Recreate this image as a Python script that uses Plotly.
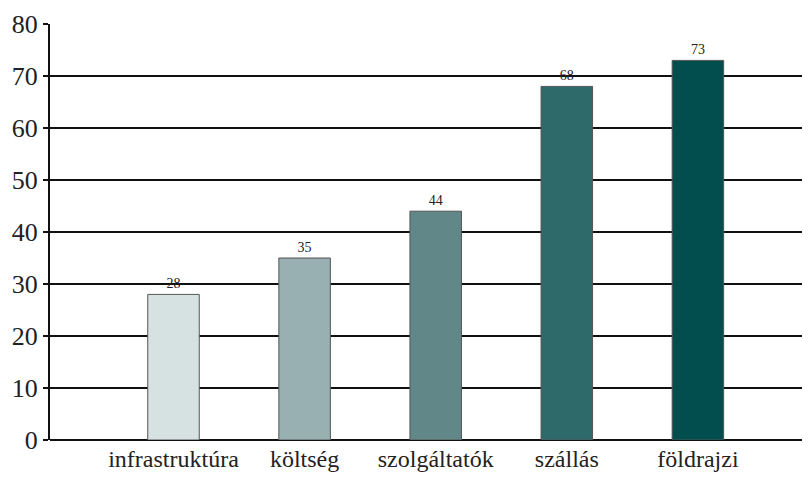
import plotly.graph_objects as go

categories = ['infrastruktúra', 'költség', 'szolgáltatók', 'szállás', 'földrajzi']
values = [28, 35, 44, 68, 73]
colors = ['#d6e1e1', '#98b0b1', '#628788', '#2e6a69', '#024d4d']
y_ticks = [0, 10, 20, 30, 40, 50, 60, 70, 80]

font_family = 'Liberation Serif'

fig = go.Figure()

fig.add_trace(go.Bar(x=categories,
                     y=values,
                     width=0.393,
                     marker=dict(color=colors, line=dict(color='#555555', width=1)),
                     text=values,
                     textposition='outside',
                     textfont=dict(family=font_family, size=14, color='#222222'),
                     cliponaxis=False))

# the page body has an 8px margin, so the figure is sized to the visible area
fig.update_layout(
    width=802,
    height=473,
    margin=dict(l=42, r=0, t=16, b=41, autoexpand=False),
    paper_bgcolor='white',
    plot_bgcolor='white',
    showlegend=False,
    font=dict(family=font_family, color='#222222'),
    xaxis=dict(
        type='category',
        range=[-0.942, 4.855],
        showgrid=False,
        ticks='',
        tickfont=dict(size=24),
        ticklabelstandoff=2,
        showline=False,
        automargin=False,
    ),
    yaxis=dict(
        range=[0, 80],
        tickvals=y_ticks,
        showgrid=True,
        gridcolor='#111111',
        gridwidth=1.5,
        zeroline=True,
        zerolinecolor='#111111',
        zerolinewidth=2,
        showline=True,
        linecolor='#111111',
        linewidth=2,
        ticks='outside',
        ticklen=5,
        tickwidth=2,
        tickcolor='#111111',
        tickfont=dict(size=26),
        automargin=False,
    ),
)

fig.write_html("out.html")
